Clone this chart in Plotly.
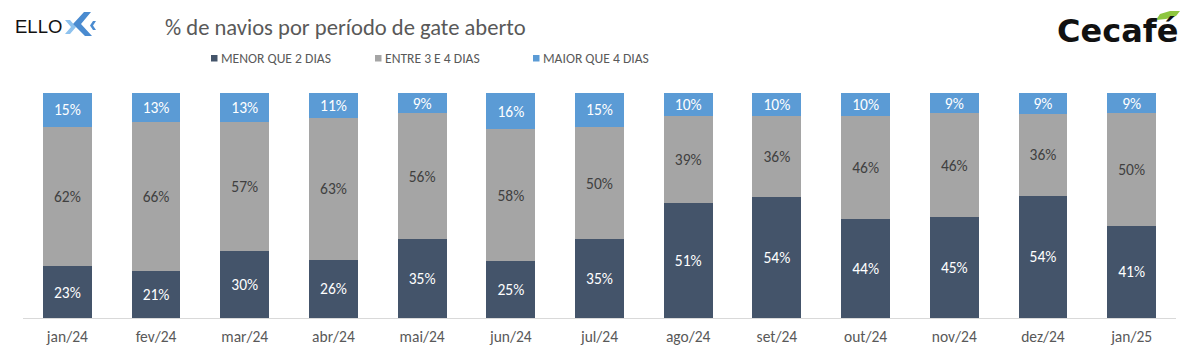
import plotly.graph_objects as go

categories = ["jan/24", "fev/24", "mar/24", "abr/24", "mai/24", "jun/24", "jul/24",
              "ago/24", "set/24", "out/24", "nov/24", "dez/24", "jan/25"]
menor_2 = [23, 21, 30, 26, 35, 25.4, 35, 51, 54, 44, 45, 54.4, 41]
entre_3_4 = [62, 66, 57, 63, 56, 58.4, 50, 39, 36, 46, 46, 36.4, 50]
maior_4 = [15, 13, 13, 11, 9, 16.2, 15, 10, 10, 10, 9, 9.2, 9]

series_names = ["MENOR QUE 2 DIAS", "ENTRE 3 E 4 DIAS", "MAIOR QUE 4 DIAS"]
colors = ["#44546A", "#A5A5A5", "#5B9BD5"]
label_colors = ["#FFFFFF", "#404040", "#FFFFFF"]

FONT = "Carlito, Open Sans, Noto Sans, sans-serif"

L, R, T, B = 23, 24, 93, 33
PW = 1200 - L - R
PH = 351 - T - B


def px(x):
    return (x - L) / PW


def py(y):
    return 1 + (T - y) / PH


fig = go.Figure()
for name, vals, col, lcol in zip(series_names, [menor_2, entre_3_4, maior_4], colors, label_colors):
    fig.add_trace(go.Bar(
        x=categories, y=vals, name=name,
        marker=dict(color=col, line=dict(width=0)),
        texttemplate="%{y:.0f}%", textposition="inside", insidetextanchor="middle",
        textangle=0,
        textfont=dict(family=FONT, size=15.5, color=lcol),
        constraintext="none", cliponaxis=False, showlegend=False,
    ))

fig.update_layout(
    barmode="stack",
    bargap=0.45,
    width=1200, height=351,
    margin=dict(l=L, r=R, t=T, b=B, autoexpand=False),
    paper_bgcolor="white", plot_bgcolor="white",
    font=dict(family=FONT, color="#595959"),
    title=dict(text="% de navios por período de gate aberto",
               x=165/1200, xanchor="left", xref="container",
               y=1-27/351, yanchor="middle", yref="container",
               font=dict(family=FONT, size=22.6, color="#595959")),
    showlegend=False,
    xaxis=dict(showline=True, linecolor="#D9D9D9", linewidth=1, ticks="",
               tickfont=dict(family=FONT, size=15.5, color="#595959"),
               ticklabelstandoff=4, automargin=False,
               showgrid=False, fixedrange=True),
    yaxis=dict(range=[0, 100], visible=False, showgrid=False, fixedrange=True,
               automargin=False),
)

# Legend (drawn manually to match spacing)
legend_x = [211, 375, 533]
for name, col, lx in zip(series_names, colors, legend_x):
    fig.add_shape(type="rect", xref="paper", yref="paper",
                  x0=px(lx), x1=px(lx + 6.5), y0=py(61.5), y1=py(55),
                  fillcolor=col, line=dict(width=0))
    fig.add_annotation(text=name, xref="paper", yref="paper",
                       x=px(lx + 7.5), y=py(58.5), xanchor="left", yanchor="middle",
                       showarrow=False,
                       font=dict(family=FONT, size=13.6, color="#595959"))

# ELLO logo (text + chevrons)
fig.add_annotation(text="ELLO", xref="paper", yref="paper",
                   x=px(13), y=py(26), xanchor="left", yanchor="middle",
                   showarrow=False, font=dict(family="Liberation Sans, Arial", size=18.5, color="#111111"))


def poly(points, color):
    path = "M " + " L ".join(f"{px(a)} {py(b)}" for a, b in points) + " Z"
    fig.add_shape(type="path", xref="paper", yref="paper", path=path,
                  fillcolor=color, line=dict(width=0))


poly([(65, 20), (70, 20), (76, 27), (70, 34), (65, 34), (71, 27)], "#8EC2EE")
poly([(91, 12), (84, 12), (73, 24), (85, 36), (92, 36), (81, 24)], "#4A8BD0")
poly([(96, 21), (93, 21), (90, 25.5), (93, 30), (96, 30), (93, 25.5)], "#4A8BD0")

# Cecafé logo
fig.add_annotation(text="<b>Cecafé</b>", xref="paper", yref="paper",
                   x=px(1180), y=py(31), xanchor="right", yanchor="middle",
                   showarrow=False, font=dict(family="DejaVu Sans, sans-serif", size=32, color="#111111"))
poly([(1156, 20), (1160, 14), (1170, 11), (1180, 11), (1176, 16), (1166, 19)], "#8DC63F")

fig.write_html("out.html")
